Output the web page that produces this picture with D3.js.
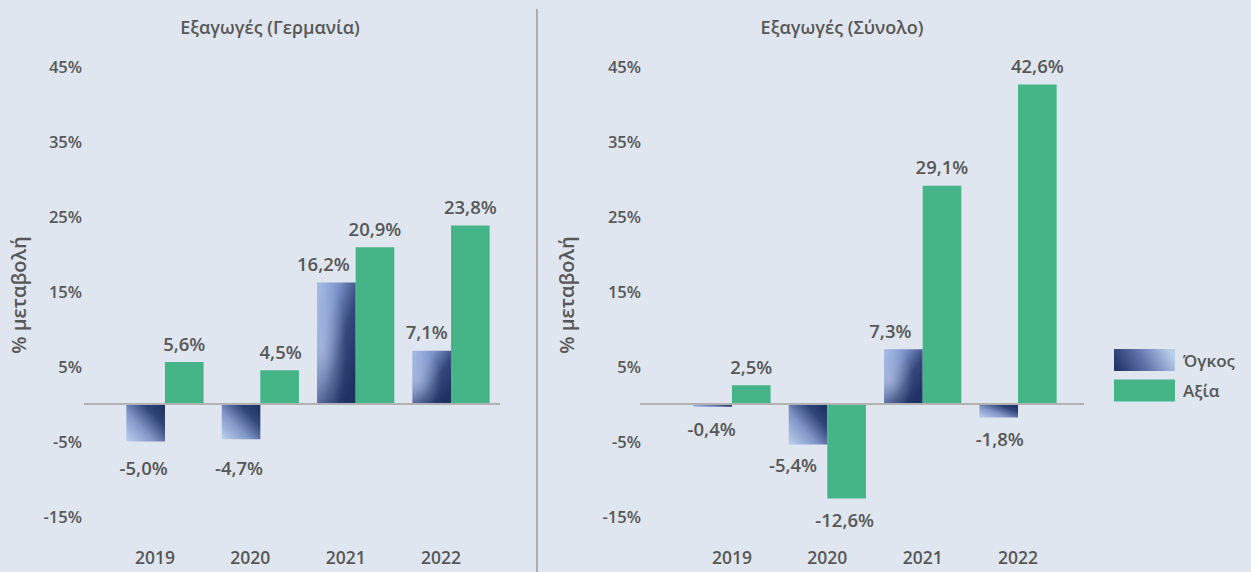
<!DOCTYPE html>
<html>
<head>
<meta charset="utf-8">
<script src="https://cdn.jsdelivr.net/npm/d3@7"></script>
<style>
  html, body { margin: 0; padding: 0; background: #dfe6ef; }
  svg { display: block; }
  text { font-family: "Open Sans", sans-serif; fill: #575757; }
</style>
</head>
<body>
<svg id="chart" width="1251" height="572"></svg>
<script>
// ---------- data ----------
const years = ["2019", "2020", "2021", "2022"];
const germanyVolume = [-5.0, -4.7, 16.2, 7.1];
const germanyValue  = [5.6, 4.5, 20.9, 23.8];
const totalVolume   = [-0.4, -5.4, 7.3, -1.8];
const totalValue    = [2.5, -12.6, 29.1, 42.6];
const yTicks = [45, 35, 25, 15, 5, -5, -15];
const seriesNames = ["Όγκος", "Αξία"];
const titles = ["Εξαγωγές (Γερμανία)", "Εξαγωγές (Σύνολο)"];
const yTitle = "% μεταβολή";

// ---------- layout (not data) ----------
const W = 1251, H = 572;
const green = "#45b487";
const svg = d3.select("#chart");
svg.append("rect").attr("width", W).attr("height", H).attr("fill", "#dfe6ef");

const defs = svg.append("defs");
function lin(id, x1, y1, x2, y2, stops) {
  const g = defs.append("linearGradient").attr("id", id)
    .attr("x1", x1).attr("y1", y1).attr("x2", x2).attr("y2", y2);
  stops.forEach(s => g.append("stop").attr("offset", s[0]).attr("stop-color", s[1]));
}
lin("volPos", 0, 0.1, 0.85, 0.9, [[0, "#9fb7e3"], [0.3, "#7b93c9"], [0.65, "#34487c"], [1, "#1f3262"]]);
lin("volNeg", 0, 1, 1, 0.1, [[0, "#bdd1ef"], [0.4, "#8296c8"], [0.75, "#2f4477"], [1, "#1f3262"]]);
lin("volLeg", 0, 0.6, 1, 0.4, [[0, "#22376a"], [0.45, "#5d70a8"], [1, "#bcd0ee"]]);
const hl = defs.append("radialGradient").attr("id", "volHl").attr("cx", 0.15).attr("cy", 0.55).attr("r", 0.6);
hl.append("stop").attr("offset", 0).attr("stop-color", "#c8d4f0").attr("stop-opacity", 0.55);
hl.append("stop").attr("offset", 1).attr("stop-color", "#c8d4f0").attr("stop-opacity", 0);

const y = d3.scaleLinear().domain([-15, 45]).range([516.5, 66.5]);

const panels = [
  { title: titles[0], titleX: 270, vol: germanyVolume, val: germanyValue,
    xRange: [117.3, 498.7], lineX: [84, 500], tickX: 82, yTitleX: 18, yearDx: -10,
    volNudge: [[-2, 5], [-2, 7], [-13, 0], [-5, 0]], valNudge: [[0, 0], [1, 0], [0, 0], [0, 0]] },
  { title: titles[1], titleX: 842, vol: totalVolume, val: totalValue,
    xRange: [684.3, 1065.7], lineX: [640, 1084], tickX: 641, yTitleX: 566, yearDx: 0,
    volNudge: [[-1, 0], [-15, -1], [-13, 0], [1, 0]], valNudge: [[0, 0], [-2, 0], [0, 0], [0, 0]] }
];

const fmt = v => (v < 0 ? "-" : "") + d3.format(".1f")(Math.abs(v)).replace(".", ",") + "%";

panels.forEach(p => {
  const g = svg.append("g");
  const x = d3.scaleBand().domain(years).range(p.xRange).paddingInner(0).paddingOuter(0);
  const bw = x.bandwidth() * 0.405;

  // title
  g.append("text").attr("x", p.titleX).attr("y", 27).attr("text-anchor", "middle")
    .attr("dominant-baseline", "central").attr("font-size", 18).attr("font-weight", 600)
    .text(p.title);

  // y tick labels
  g.selectAll(".yt").data(yTicks).join("text")
    .attr("x", p.tickX).attr("y", d => y(d)).attr("text-anchor", "end")
    .attr("dominant-baseline", "central").attr("font-size", 16.5).attr("font-weight", 600)
    .text(d => (d < 0 ? "-" : "") + Math.abs(d) + "%");

  // y axis title
  g.append("text").attr("transform", `translate(${p.yTitleX},295) rotate(-90)`)
    .attr("text-anchor", "middle").attr("dominant-baseline", "central")
    .attr("font-size", 20).attr("font-weight", 600).text(yTitle);

  // bars
  const volData = years.map((yr, i) => ({ yr, v: p.vol[i], n: p.volNudge[i] }));
  const valData = years.map((yr, i) => ({ yr, v: p.val[i], n: p.valNudge[i] }));
  const cx = d => x(d.yr) + x.bandwidth() / 2;

  g.selectAll(".vb").data(volData).join("rect")
    .attr("x", d => cx(d) - bw).attr("width", bw)
    .attr("y", d => y(Math.max(0, d.v))).attr("height", d => Math.abs(y(d.v) - y(0)))
    .attr("fill", d => d.v >= 0 ? "url(#volPos)" : "url(#volNeg)");
  g.selectAll(".vh").data(volData.filter(d => d.v > 0)).join("rect")
    .attr("x", d => cx(d) - bw).attr("width", bw)
    .attr("y", d => y(d.v)).attr("height", d => y(0) - y(d.v))
    .attr("fill", "url(#volHl)");
  g.selectAll(".ab").data(valData).join("rect")
    .attr("x", d => cx(d)).attr("width", bw)
    .attr("y", d => y(Math.max(0, d.v))).attr("height", d => Math.abs(y(d.v) - y(0)))
    .attr("fill", green);

  // zero line
  g.append("line").attr("x1", p.lineX[0]).attr("x2", p.lineX[1])
    .attr("y1", y(0)).attr("y2", y(0)).attr("stroke", "#b1b1b1").attr("stroke-width", 2);

  // value labels
  const lab = (data, off) => g.selectAll(null).data(data).join("text")
    .attr("x", d => cx(d) + off + d.n[0])
    .attr("y", d => (d.v >= 0 ? y(d.v) - 19 : y(d.v) + 21) + d.n[1])
    .attr("text-anchor", "middle").attr("dominant-baseline", "central")
    .attr("font-size", 18.5).attr("font-weight", 600).text(d => fmt(d.v));
  lab(volData, -bw / 2);
  lab(valData, bw / 2);

  // year labels
  g.selectAll(".yr").data(years).join("text")
    .attr("x", d => x(d) + x.bandwidth() / 2 + p.yearDx).attr("y", 557)
    .attr("text-anchor", "middle").attr("dominant-baseline", "central")
    .attr("font-size", 17.5).attr("font-weight", 600).text(d => d);
});

// divider
svg.append("line").attr("x1", 537).attr("x2", 537).attr("y1", 9).attr("y2", H)
  .attr("stroke", "#adadad").attr("stroke-width", 2);

// legend
const leg = svg.append("g");
const legFills = ["url(#volLeg)", green];
const legY = [360, 390.5];
seriesNames.forEach((s, i) => {
  leg.append("rect").attr("x", 1114).attr("y", legY[i] - 11).attr("width", 61).attr("height", 22)
    .attr("fill", legFills[i]);
  leg.append("text").attr("x", 1183).attr("y", legY[i]).attr("dominant-baseline", "central")
    .attr("font-size", 17).attr("font-weight", 600).text(s);
});
</script>
</body>
</html>
